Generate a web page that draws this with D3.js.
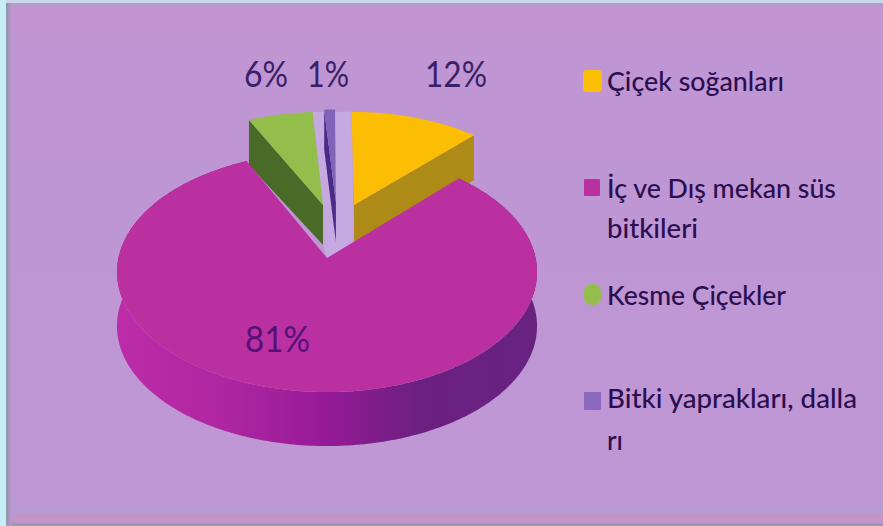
<!DOCTYPE html>
<html lang="tr">
<head>
<meta charset="utf-8">
<title>Süs bitkileri</title>
<script src="https://cdn.jsdelivr.net/npm/d3@7/dist/d3.min.js"></script>
<style>
html,body{margin:0;padding:0;background:#BE97D5;overflow:hidden}
svg{display:block}
text{font-family:Lato,"Open Sans",sans-serif}
</style>
</head>
<body>
<svg id="chart" width="883" height="526"></svg>
<script>
// Chart data
const categories = ["Çiçek soğanları", "İç ve Dış mekan süs bitkileri", "Kesme Çiçekler", "Bitki yaprakları, dallarI"];
const values = [12, 81, 6, 1];
const valueLabels = ["12%", "81%", "6%", "1%"];
const legendLines = [["Çiçek soğanları"], ["İç ve Dış mekan süs", "bitkileri"], ["Kesme Çiçekler"], ["Bitki yaprakları, dalla", "rı"]];

// Slice styling and placement
const topColors = ["#FBBE04", "#BA30A0", "#93BE4C", "#8064B8"];
const wallColors = ["#AE8A16", null, "#4A6A28", "#4A2B88"];
const apexShift = [[0.137, 0.472], [0, 0], [-0.02, 0.472], [0.045, 0.5]];
const sliceRadius = [0.97, 1, 0.97, 0.97];
const apexDepth = [38, 54, 40, 40];
const rimDepth = [45, 54, 45, 40];
const visibleFace = ["end", null, "start", "start"];
const labelPos = [[425, 87, 62], [245, 352, 65], [244, 87, 44], [307, 87, 42]];
const labelColors = ["#3B2068", "#561078", "#3B2068", "#3B2068"];

const svg = d3.select("#chart");
const defs = svg.append("defs");

// Plate background with the frame along its edges
const edgeFade = defs.append("linearGradient").attr("id", "edgeFade");
edgeFade.append("stop").attr("offset", 0).attr("stop-color", "#8F96A8");
edgeFade.append("stop").attr("offset", 1).attr("stop-color", "#BE97D5");
const plate = defs.append("linearGradient").attr("id", "plate").attr("x1", 0).attr("x2", 0).attr("y1", 0).attr("y2", 1);
[[0, "#C594CE"], [0.12, "#BF96D3"], [0.95, "#BE97D5"], [1, "#BE97D5"]].forEach(([o, c]) =>
  plate.append("stop").attr("offset", o).attr("stop-color", c));

svg.append("rect").attr("width", 883).attr("height", 526).attr("fill", "url(#plate)");
svg.append("rect").attr("y", 505).attr("width", 883).attr("height", 9).attr("fill", "#B79CD4");
svg.append("rect").attr("y", 514).attr("width", 883).attr("height", 10).attr("fill", "#C394C9");
svg.append("rect").attr("y", 523).attr("width", 883).attr("height", 3).attr("fill", "#989CAE");
svg.append("rect").attr("width", 883).attr("height", 3).attr("fill", "#CCD4EE");
svg.append("rect").attr("y", 3).attr("width", 883).attr("height", 3).attr("fill", "#ABA2C6");
svg.append("rect").attr("x", 6).attr("y", 3).attr("width", 6).attr("height", 523).attr("fill", "url(#edgeFade)");
svg.append("rect").attr("width", 6).attr("height", 526).attr("fill", "#C6EEF4");

// Perspective view of the pie's top plane
const view = {cx: 327, cy: 258, R: 208.6, S: 118.4, k: 0.1167};
const project = ([u, v]) => {
  const w = 1 + view.k * v;
  return [view.cx + view.R * u / w, view.cy - view.S * v / w];
};
const rimPoint = (i, a) => [
  apexShift[i][0] + sliceRadius[i] * Math.sin(a),
  apexShift[i][1] + sliceRadius[i] * Math.cos(a)
];
const drop = ([x, y], d) => [x, y + d];
const line = d3.line();

const arcs = d3.pie().sort(null).startAngle(0).endAngle(2 * Math.PI)(values);
const rimSamples = (i, arc) => {
  const steps = Math.max(2, Math.ceil((arc.endAngle - arc.startAngle) * 60));
  return d3.range(steps + 1).map(s =>
    project(rimPoint(i, arc.startAngle + (arc.endAngle - arc.startAngle) * s / steps)));
};

// Pale gap left open by the pulled-out slices
const apexOf = i => project(apexShift[i]);
svg.append("path")
  .attr("d", line([
    project(rimPoint(2, arcs[2].endAngle)),
    project(rimPoint(0, arcs[0].startAngle)),
    drop(apexOf(0), apexDepth[0]),
    apexOf(1),
    drop(apexOf(2), apexDepth[2])
  ]) + "Z")
  .attr("fill", "#C7A9E2");

// Pulled-out slices: visible cut face, then top face
[0, 2, 3].forEach(i => {
  const angle = visibleFace[i] === "end" ? arcs[i].endAngle : arcs[i].startAngle;
  const rim = project(rimPoint(i, angle));
  const apex = apexOf(i);
  svg.append("path")
    .attr("class", "wall")
    .attr("d", line([apex, rim, drop(rim, rimDepth[i]), drop(apex, apexDepth[i])]) + "Z")
    .attr("fill", wallColors[i]);
  svg.append("path")
    .attr("class", "top")
    .attr("d", line([apex, ...rimSamples(i, arcs[i])]) + "Z")
    .attr("fill", topColors[i]);
});

// Main slice: outer wall shaded from left to right, then top face
const wallShade = defs.append("linearGradient").attr("id", "wallShade")
  .attr("gradientUnits", "userSpaceOnUse").attr("x1", 117).attr("x2", 537).attr("y1", 0).attr("y2", 0);
[[0, "#BC2CA8"], [0.25, "#B026A2"], [0.5, "#951A96"], [0.72, "#6C2080"], [1, "#682280"]].forEach(([o, c]) =>
  wallShade.append("stop").attr("offset", o).attr("stop-color", c));

const mainRim = rimSamples(1, arcs[1]);
svg.append("path")
  .attr("class", "wall")
  .attr("d", line([...mainRim, ...mainRim.slice().reverse().map(p => drop(p, rimDepth[1]))]) + "Z")
  .attr("fill", "url(#wallShade)");
svg.append("path")
  .attr("class", "top")
  .attr("d", line([apexOf(1), ...mainRim]) + "Z")
  .attr("fill", topColors[1]);

// Percentage labels
svg.append("g").selectAll("text").data(valueLabels).join("text")
  .attr("x", (d, i) => labelPos[i][0])
  .attr("y", (d, i) => labelPos[i][1])
  .attr("textLength", (d, i) => labelPos[i][2])
  .attr("lengthAdjust", "spacingAndGlyphs")
  .attr("font-size", 36)
  .attr("fill", (d, i) => labelColors[i])
  .text(d => d);

// Legend
const legendBoxes = [[583, 70, 19, 22, 4], [584, 179, 16, 17, 1], [584, 284, 17, 21, 8], [584, 392, 17, 18, 1]];
const legendBaselines = [[91], [198, 238], [305], [408, 450]];
const legendWidths = [[177], [229, 91], [179], [250, 16]];
const legend = svg.append("g");
legend.selectAll("rect").data(categories).join("rect")
  .attr("x", (d, i) => legendBoxes[i][0])
  .attr("y", (d, i) => legendBoxes[i][1])
  .attr("width", (d, i) => legendBoxes[i][2])
  .attr("height", (d, i) => legendBoxes[i][3])
  .attr("rx", (d, i) => legendBoxes[i][4])
  .attr("fill", (d, i) => i === 3 ? "#8A68BC" : topColors[i]);
legendLines.forEach((rows, i) => rows.forEach((row, j) => {
  legend.append("text")
    .attr("x", 607)
    .attr("y", legendBaselines[i][j])
    .attr("textLength", legendWidths[i][j])
    .attr("lengthAdjust", "spacingAndGlyphs")
    .attr("font-size", 27)
    .attr("font-weight", 500)
    .attr("fill", "#2C0E50")
    .text(row);
}));
</script>
</body>
</html>
